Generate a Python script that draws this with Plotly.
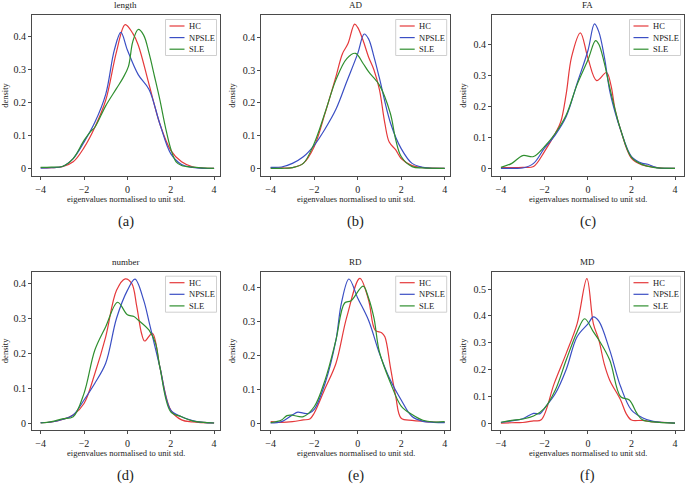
import plotly.graph_objects as go

# ---------------- data ----------------
PANEL_TITLES = ["length", "AD", "FA", "number", "RD", "MD"]
PANEL_LETTERS = ["(a)", "(b)", "(c)", "(d)", "(e)", "(f)"]
GROUPS = ["HC", "NPSLE", "SLE"]
X_TICKS = [-4, -2, 0, 2, 4]
X_LABEL = "eigenvalues normalised to unit std."
Y_LABEL = "density"

# each list: [x, density] knots of the kernel density curves
length_HC = [[-4, 0.002], [-3.5, 0.002], [-3, 0.005], [-2.5, 0.02], [-2, 0.063], [-1.5, 0.125],
             [-1, 0.207], [-0.5, 0.355], [-0.1, 0.437], [0.25, 0.41], [0.5, 0.375], [1, 0.255],
             [1.5, 0.135], [2, 0.055], [2.5, 0.02], [3, 0.005], [3.5, 0.001], [4, 0.0]]
length_NPSLE = [[-4, 0.001], [-3.5, 0.002], [-3, 0.006], [-2.5, 0.03], [-2, 0.08], [-1.5, 0.14],
                [-1, 0.225], [-0.6, 0.36], [-0.3, 0.413], [0, 0.36], [0.5, 0.285], [1, 0.24],
                [1.5, 0.135], [2, 0.045], [2.5, 0.012], [3, 0.003], [3.5, 0.0], [4, 0.0]]
length_SLE = [[-4, 0.003], [-3.5, 0.004], [-3, 0.006], [-2.5, 0.03], [-2, 0.085], [-1.7, 0.112],
              [-1.5, 0.125], [-1, 0.19], [-0.5, 0.243], [-0.2, 0.275], [0.05, 0.31], [0.25, 0.385],
              [0.5, 0.422], [0.75, 0.405], [1, 0.35], [1.25, 0.28], [1.5, 0.208], [1.75, 0.127],
              [2, 0.06], [2.25, 0.02], [2.5, 0.009], [3, 0.004], [4, 0.0]]

AD_HC = [[-4, 0.001], [-3.5, 0.001], [-3, 0.002], [-2.5, 0.015], [-2, 0.066], [-1.5, 0.168],
         [-1, 0.28], [-0.7, 0.35], [-0.45, 0.38], [-0.14, 0.44], [0, 0.43], [0.25, 0.39],
         [0.5, 0.34], [0.75, 0.3], [1, 0.24], [1.25, 0.137], [1.45, 0.08], [1.75, 0.056],
         [2, 0.03], [2.5, 0.008], [3, 0.002], [4, 0.0]]
AD_NPSLE = [[-4, 0.003], [-3.5, 0.004], [-3, 0.015], [-2.5, 0.035], [-2, 0.07], [-1.5, 0.12],
            [-1, 0.18], [-0.5, 0.265], [0, 0.35], [0.3, 0.41], [0.5, 0.395], [0.75, 0.34],
            [1, 0.275], [1.5, 0.14], [2, 0.06], [2.5, 0.015], [3, 0.003], [3.5, 0.0], [4, 0.0]]
AD_SLE = [[-4, 0.0], [-3.5, 0.0], [-3, 0.002], [-2.5, 0.015], [-2, 0.076], [-1.5, 0.17],
          [-1, 0.27], [-0.5, 0.335], [-0.1, 0.351], [0.25, 0.32], [0.5, 0.295], [1, 0.254],
          [1.5, 0.168], [1.75, 0.087], [2, 0.036], [2.5, 0.005], [3, 0.001], [4, 0.0]]

FA_HC = [[-4, 0.002], [-3.5, 0.002], [-3, 0.003], [-2.5, 0.006], [-2, 0.054], [-1.5, 0.113],
         [-1.25, 0.15], [-1, 0.24], [-0.75, 0.36], [-0.35, 0.437], [0, 0.355], [0.4, 0.283],
         [0.85, 0.309], [1.05, 0.27], [1.25, 0.188], [1.5, 0.124], [2, 0.032], [2.5, 0.011],
         [3, 0.004], [3.5, 0.0], [4, 0.0]]
FA_NPSLE = [[-4, 0.0], [-3.5, 0.0], [-3, 0.001], [-2.5, 0.016], [-2, 0.065], [-1.5, 0.108],
            [-1, 0.167], [-0.5, 0.274], [0, 0.38], [0.3, 0.466], [0.5, 0.44], [0.75, 0.36],
            [1, 0.25], [1.25, 0.18], [1.5, 0.124], [2, 0.038], [2.5, 0.016], [2.75, 0.013],
            [3, 0.006], [3.25, 0.001], [4, 0.0]]
FA_SLE = [[-4, 0.003], [-3.5, 0.016], [-3, 0.041], [-2.5, 0.038], [-2, 0.07], [-1.5, 0.113],
          [-1, 0.172], [-0.5, 0.27], [0, 0.35], [0.35, 0.412], [0.5, 0.40], [0.75, 0.34],
          [1, 0.26], [1.5, 0.125], [2, 0.035], [2.5, 0.012], [3, 0.003], [4, 0.0]]

number_HC = [[-4, 0.001], [-3.5, 0.003], [-3, 0.01], [-2.5, 0.023], [-2, 0.056], [-1.5, 0.142],
             [-1, 0.247], [-0.5, 0.38], [-0.1, 0.413], [0.2, 0.40], [0.43, 0.335], [0.66, 0.255],
             [0.8, 0.235], [1.15, 0.257], [1.5, 0.16], [2, 0.037], [2.5, 0.009], [3, 0.003], [4, 0.0]]
number_NPSLE = [[-4, 0.001], [-3.5, 0.003], [-3, 0.01], [-2.5, 0.023], [-2, 0.066], [-1.5, 0.114],
                [-1, 0.171], [-0.5, 0.3], [0, 0.38], [0.35, 0.412], [0.75, 0.352], [1, 0.29],
                [1.5, 0.16], [2, 0.037], [2.5, 0.018], [3, 0.007], [3.5, 0.002], [4, 0.0]]
number_SLE = [[-4, 0.0], [-3.5, 0.004], [-3, 0.012], [-2.5, 0.018], [-2, 0.085], [-1.5, 0.209],
              [-1, 0.276], [-0.45, 0.346], [0, 0.31], [0.3, 0.305], [0.5, 0.295], [1, 0.266],
              [1.3, 0.228], [1.5, 0.16], [2, 0.032], [2.5, 0.018], [3, 0.006], [4, 0.0]]

RD_HC = [[-4, 0.004], [-3.5, 0.002], [-3, 0.004], [-2.5, 0.009], [-2.2, 0.012], [-2, 0.029],
         [-1.5, 0.102], [-1, 0.176], [-0.5, 0.314], [0.1, 0.428], [0.5, 0.364], [0.8, 0.275],
         [1.1, 0.267], [1.25, 0.255], [1.5, 0.167], [1.75, 0.078], [2, 0.014], [2.5, 0.008],
         [3, 0.005], [3.5, 0.003], [4, 0.002]]
RD_NPSLE = [[-4, 0.0], [-3.5, 0.004], [-3, 0.024], [-2.75, 0.032], [-2.5, 0.029], [-2.25, 0.028],
            [-2, 0.04], [-1.5, 0.117], [-1, 0.245], [-0.75, 0.354], [-0.4, 0.426], [0, 0.37],
            [0.5, 0.304], [1, 0.206], [1.5, 0.127], [2, 0.068], [2.5, 0.019], [3, 0.005],
            [3.5, 0.002], [4, 0.001]]
RD_SLE = [[-4, 0.001], [-3.5, 0.009], [-3.25, 0.022], [-3, 0.023], [-2.5, 0.019], [-2, 0.048],
          [-1.5, 0.127], [-1, 0.245], [-0.6, 0.355], [-0.3, 0.362], [0.25, 0.405], [0.5, 0.37],
          [0.75, 0.31], [1, 0.21], [1.5, 0.12], [2, 0.05], [2.5, 0.025], [3, 0.008], [3.5, 0.003],
          [4, 0.004]]

MD_HC = [[-4, 0.0], [-3.5, 0.001], [-3, 0.002], [-2.5, 0.008], [-2.15, 0.012], [-1.55, 0.148],
         [-1, 0.26], [-0.5, 0.37], [-0.05, 0.539], [0.25, 0.37], [0.5, 0.31], [0.75, 0.22],
         [1, 0.16], [1.5, 0.086], [1.75, 0.036], [2, 0.011], [2.5, 0.01], [3, 0.004], [4, 0.0]]
MD_NPSLE = [[-4, 0.002], [-3.5, 0.008], [-3, 0.016], [-2.5, 0.036], [-2.2, 0.035], [-2, 0.055],
            [-1.5, 0.11], [-1, 0.2], [-0.5, 0.322], [0, 0.37], [0.25, 0.396], [0.5, 0.38],
            [1, 0.272], [1.5, 0.136], [2, 0.048], [2.5, 0.02], [3, 0.006], [3.5, 0.002], [4, 0.0]]
MD_SLE = [[-4, 0.003], [-3.5, 0.01], [-3, 0.015], [-2.5, 0.026], [-2, 0.055], [-1.5, 0.123],
          [-1, 0.235], [-0.5, 0.34], [-0.15, 0.389], [0.25, 0.34], [0.5, 0.31], [1, 0.235],
          [1.5, 0.098], [1.9, 0.086], [2.25, 0.036], [2.5, 0.012], [3, 0.004], [4, 0.0]]

PANEL_SERIES = [
    [length_HC, length_NPSLE, length_SLE],
    [AD_HC, AD_NPSLE, AD_SLE],
    [FA_HC, FA_NPSLE, FA_SLE],
    [number_HC, number_NPSLE, number_SLE],
    [RD_HC, RD_NPSLE, RD_SLE],
    [MD_HC, MD_NPSLE, MD_SLE],
]

# ---------------- styling / layout ----------------
W, H = 685, 484
COLORS = ["#e5393b", "#3b4fc4", "#2f8f2f"]
FONT = "Liberation Serif, Times New Roman, serif"
AX_COLOR = "#4a4a4a"

# frames in pixels: (left, right, top, bottom)
COLS = [(32.0, 219.5), (261.3, 449.7), (492.0, 683.5)]
ROWS = [(15.0, 176.0), (271.7, 430.0)]
X_RANGES = [[-4.40, 4.25], [-4.43, 4.23], [-4.41, 4.39]]
Y_RANGES = [[-0.023, 0.466], [-0.0235, 0.468], [-0.0248, 0.4945],
            [-0.020, 0.4335], [-0.0207, 0.4476], [-0.026, 0.5646]]


def fx(px):
    return px / W


def fy(py):
    return 1 - py / H


fig = go.Figure()
shapes, annotations = [], []
layout = {}

for i, (title, letter, series) in enumerate(zip(PANEL_TITLES, PANEL_LETTERS, PANEL_SERIES)):
    r, c = divmod(i, 3)
    L, R = COLS[c]
    T, B = ROWS[r]
    n = i + 1
    xa = "x" if n == 1 else f"x{n}"
    ya = "y" if n == 1 else f"y{n}"
    for g, pts, col in zip(GROUPS, series, COLORS):
        fig.add_trace(go.Scatter(
            x=[p[0] for p in pts], y=[p[1] for p in pts], mode="lines", name=g,
            line=dict(color=col, width=1.2, shape="spline", smoothing=1.0),
            xaxis=xa, yaxis=ya, showlegend=False, hoverinfo="skip"))

    common = dict(showline=True, linecolor=AX_COLOR, linewidth=1, mirror=True,
                  ticks="outside", ticklen=3, tickwidth=1, tickcolor=AX_COLOR,
                  showgrid=False, zeroline=False, automargin=False,
                  tickfont=dict(family=FONT, size=10, color="#222"))
    layout[f"xaxis{n}"] = dict(common, domain=[fx(L), fx(R)], range=X_RANGES[c],
                               tickvals=X_TICKS, anchor=ya, ticklabelstandoff=1)
    layout[f"yaxis{n}"] = dict(common, domain=[fy(B), fy(T)], range=Y_RANGES[i],
                               dtick=0.1, tick0=0, anchor=xa,
                               title=dict(text=Y_LABEL,
                                          font=dict(family=FONT, size=8.5, color="#222"),
                                          standoff=5))

    cx = (L + R) / 2
    annotations.append(dict(text=title, x=fx(cx), y=fy(T - 10), xref="paper", yref="paper",
                            showarrow=False, xanchor="center", yanchor="middle",
                            font=dict(family=FONT, size=9, color="#222")))
    annotations.append(dict(text=X_LABEL, x=fx(cx), y=fy(B + 22.5), xref="paper", yref="paper",
                            showarrow=False, xanchor="center", yanchor="middle",
                            font=dict(family=FONT, size=8.5, color="#222")))
    annotations.append(dict(text=letter, x=fx(cx), y=fy(B + 45), xref="paper", yref="paper",
                            showarrow=False, xanchor="center", yanchor="middle",
                            font=dict(family=FONT, size=14.5, color="#222")))

    # legend box (drawn manually for a compact matplotlib-like look)
    bx1 = R - 3
    bx0 = bx1 - 51
    by0 = T + 4.5
    by1 = by0 + 36
    shapes.append(dict(type="rect", xref="paper", yref="paper",
                       x0=fx(bx0), x1=fx(bx1), y0=fy(by1), y1=fy(by0),
                       line=dict(color="#cfcfcf", width=1), fillcolor="white", layer="above"))
    for k, (g, col) in enumerate(zip(GROUPS, COLORS)):
        yy = by0 + 6.5 + k * 11.6
        shapes.append(dict(type="line", xref="paper", yref="paper",
                           x0=fx(bx0 + 4), x1=fx(bx0 + 19), y0=fy(yy), y1=fy(yy),
                           line=dict(color=col, width=1.2), layer="above"))
        annotations.append(dict(text=g, x=fx(bx0 + 21.5), y=fy(yy), xref="paper", yref="paper",
                                showarrow=False, xanchor="left", yanchor="middle",
                                font=dict(family=FONT, size=8.5, color="#222")))

fig.update_layout(
    **layout,
    width=W, height=H,
    margin=dict(l=0, r=0, t=0, b=0),
    paper_bgcolor="white", plot_bgcolor="white",
    template="none",
    font=dict(family=FONT, color="#222"),
    shapes=shapes, annotations=annotations,
    showlegend=False,
)

fig.write_html(
    "out.html",
    config={"displayModeBar": False},
    post_script="document.body.style.margin='0';document.body.style.padding='0';"
                "document.body.style.overflow='hidden';",
)
